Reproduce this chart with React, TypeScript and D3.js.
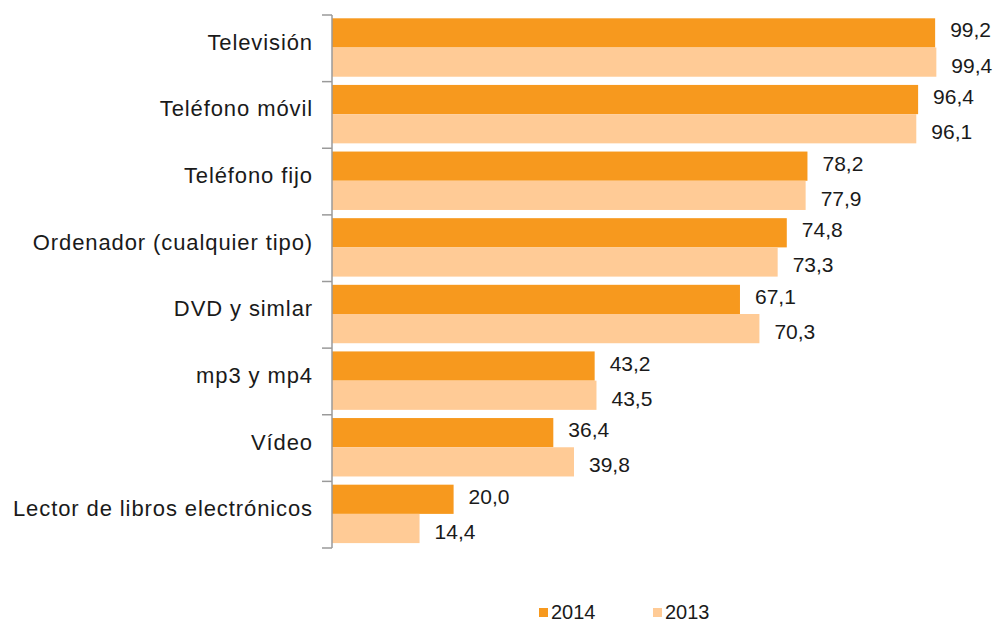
import React from "react";
import * as d3 from "d3";

const categories = [
  "Televisión",
  "Teléfono móvil",
  "Teléfono fijo",
  "Ordenador (cualquier tipo)",
  "DVD y simlar",
  "mp3 y mp4",
  "Vídeo",
  "Lector de libros electrónicos",
];
const series = ["2014", "2013"];
const values2014 = [99.2, 96.4, 78.2, 74.8, 67.1, 43.2, 36.4, 20.0];
const values2013 = [99.4, 96.1, 77.9, 73.3, 70.3, 43.5, 39.8, 14.4];
const colors = ["#F7991E", "#FFCB96"];

const W = 1003;
const H = 623;
const FONT = "'Liberation Sans', Arial, sans-serif";

export default function App() {
  const x = d3.scaleLinear().domain([0, 100]).range([332, 940]);
  const y = d3.scaleBand<string>().domain(categories).range([15, 548]).padding(0);
  const ySub = d3
    .scaleBand<string>()
    .domain(series)
    .range([3.3, y.bandwidth() - 4.9])
    .padding(0);
  const data = [values2014, values2013];
  const fmt = (v: number) => v.toFixed(1).replace(".", ",");

  const ticks = [...categories.map((c) => y(c) as number), 548];

  return (
    <svg
      width={W}
      height={H}
      style={{ position: "absolute", left: 0, top: 0, background: "#fff" }}
      fontFamily={FONT}
    >
      <rect width={W} height={H} fill="#fff" />
      {categories.map((c, i) => (
        <g key={c}>
          {series.map((s, j) => {
            const v = data[j][i];
            const by = (y(c) as number) + (ySub(s) as number);
            const bh = ySub.bandwidth();
            return (
              <g key={s}>
                <rect x={x(0)} y={by} width={x(v) - x(0)} height={bh} fill={colors[j]} />
                <text
                  x={x(v) + 15}
                  y={by + bh / 2 + (j === 0 ? -3 : 3)}
                  dominantBaseline="central"
                  fontSize={21}
                  fill="#1a1a1a"
                >
                  {fmt(v)}
                </text>
              </g>
            );
          })}
          <text
            x={313}
            y={(y(c) as number) + y.bandwidth() / 2 - 6}
            textAnchor="end"
            dominantBaseline="central"
            fontSize={22}
            letterSpacing={0.9}
            fill="#1a1a1a"
          >
            {c}
          </text>
        </g>
      ))}
      <line x1={332} x2={332} y1={15} y2={548} stroke="#9A9A9A" strokeWidth={1.5} />
      {ticks.map((t, i) => (
        <line key={i} x1={322} x2={332} y1={t} y2={t} stroke="#9A9A9A" strokeWidth={1.5} />
      ))}
      {series.map((s, j) => {
        const lx = j === 0 ? 539 : 653;
        return (
          <g key={s}>
            <rect x={lx} y={608} width={9} height={9} fill={colors[j]} />
            <text x={lx + 12} y={612} dominantBaseline="central" fontSize={20} fill="#1a1a1a">
              {s}
            </text>
          </g>
        );
      })}
    </svg>
  );
}
